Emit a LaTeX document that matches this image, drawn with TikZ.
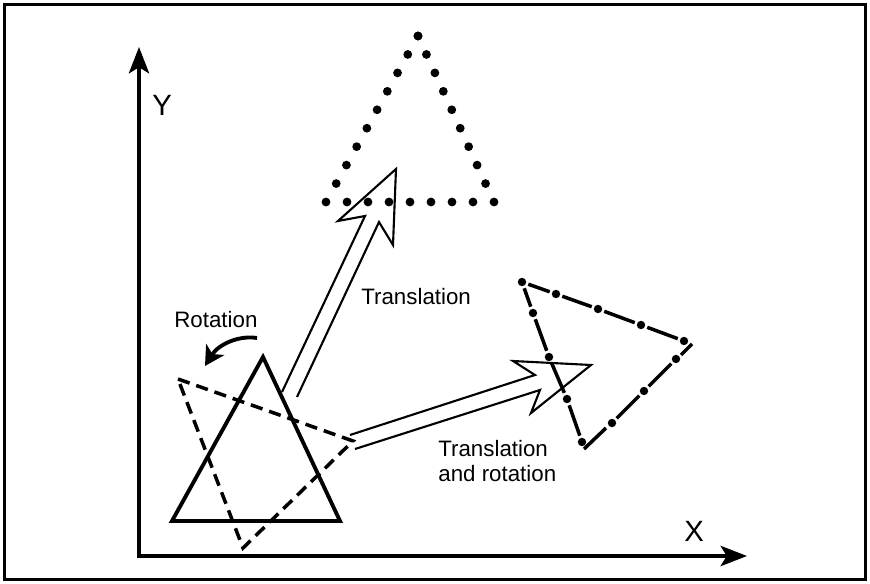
\documentclass[tikz,border=0pt]{standalone}
\usepackage{fontspec}
\setmainfont{Liberation Sans}
\usetikzlibrary{arrows.meta,calc}

\begin{document}
\begin{tikzpicture}[x=0.02cm, y=-0.02cm, line join=miter,
  lbl/.style={font=\fontsize{12.7}{15}\selectfont, inner sep=0pt},
  axlbl/.style={font=\fontsize{16.7}{20}\selectfont, inner sep=0pt},
  axistip/.tip={Stealth[length=15pt,width=11.5pt,inset=3.5pt]},
  hollow/.style={line width=1.2pt}]
  \useasboundingbox (0,0) rectangle (870,584);
  % === Frame ===
  \draw[line width=2pt] (4.5,4.5) rectangle (865.5,579.5);
  % === Axes ===
  \draw[line width=2.2pt, axistip-axistip] (139,47) |- (747,556);
  \node[axlbl, anchor=base west] (ylabel) at (152,116) {Y};
  \node[axlbl, anchor=base west] (xlabel) at (684,541) {X};
  % === Original triangle (solid) ===
  \draw[line width=2.2pt] (172,521) -- (340,521) -- (263,357) -- cycle;
  % === Rotated triangle (dashed) ===
  \draw[line width=2pt, dash pattern=on 7pt off 4pt] (178,379) -- (353,441) -- (243,548) -- cycle;
  \node[lbl, anchor=base west] (rotlabel) at (174,328) {Rotation};
  \draw[line width=2.2pt, -{Stealth[length=11pt,width=12pt,inset=3pt]}]
    (257,338) .. controls (238,335) and (218,345) .. (205,366);
  % === Translated triangle (dotted) ===
  \coordinate (dtop) at (418,36);
  \coordinate (dleft) at (326,202);
  \coordinate (dright) at (494,202);
  \foreach \i in {0,...,9} {
    \fill ($(dleft)!\i/9!(dtop)$) circle (2.5pt);
    \fill ($(dright)!\i/9!(dtop)$) circle (2.5pt);
  }
  \foreach \i in {1,...,7}
    \fill ($(dleft)!\i/8!(dright)$) circle (2.5pt);
  % === Translated and rotated triangle (dash-dot) ===
  \foreach \x/\y in {522/282, 556/294, 598/309, 641/325, 684/341,
                     533/313, 549/357, 567/399, 582/442,
                     676/359, 644/391, 612/423}
    \fill (\x,\y) circle (2.4pt);
  \foreach \xa/\ya/\xb/\yb in {522/282/556/294, 556/294/598/309, 598/309/641/325, 641/325/684/341,
                               522/282/533/313, 533/313/549/357, 549/357/567/399, 567/399/582/442,
                               676/359/644/391, 644/391/612/423}
    \draw[line width=2pt, shorten <=3.8pt, shorten >=3.8pt] (\xa,\ya) -- (\xb,\yb);
  \draw[line width=2pt] (692,344) -- (681,355);
  \draw[line width=2pt] (606,428) -- (584,449);
  % === Hollow arrows ===
  \draw[hollow] (282,392) -- (365,216) -- (338,221) -- (396,169) -- (393,245) -- (379,222) -- (297,397);
  \node[lbl, anchor=base west] (translabel) at (361,305) {Translation};
  \draw[hollow] (350,435) -- (535,375) -- (513,361) -- (591,365) -- (531,413) -- (540,390) -- (355,449);
  \node[lbl, anchor=base west] (trrotlabel) at (438,457) {Translation};
  \node[lbl, anchor=base west] (trrotlabel2) at (438,482) {and rotation};
\end{tikzpicture}
\end{document}
